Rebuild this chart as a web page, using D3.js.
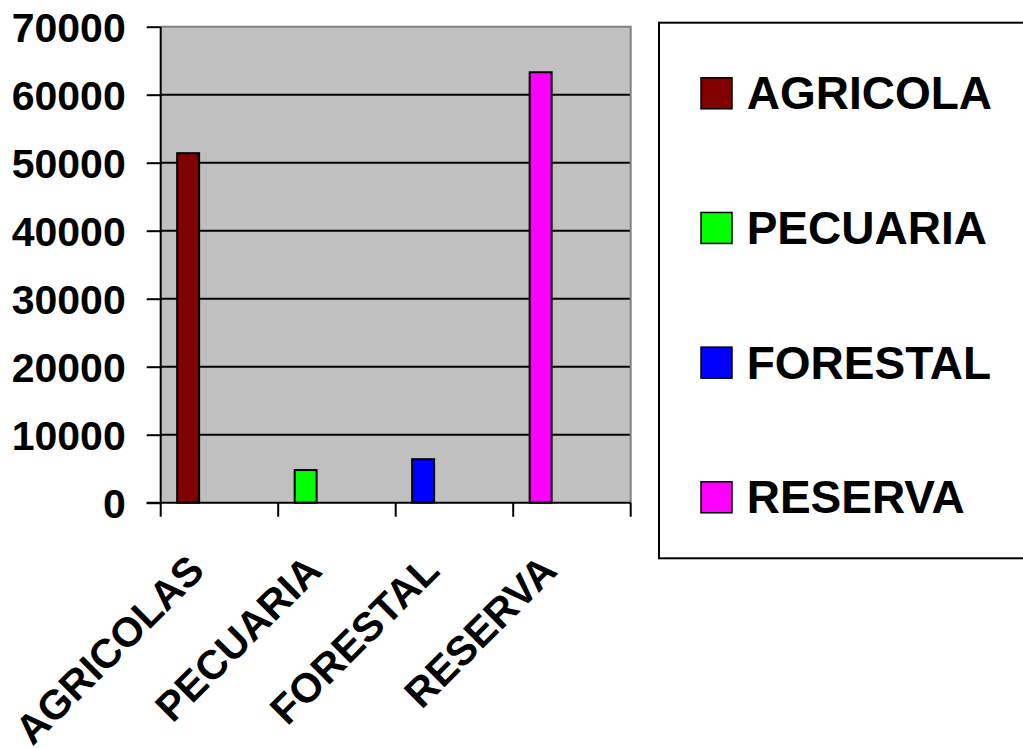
<!DOCTYPE html>
<html>
<head>
<meta charset="utf-8">
<script src="https://cdn.jsdelivr.net/npm/d3@7"></script>
<style>
  html, body { margin: 0; padding: 0; background: #fff; }
  svg { display: block; }
  text { font-family: "Liberation Sans", Arial, sans-serif; font-weight: bold; }
</style>
</head>
<body>
<svg id="chart" width="1023" height="748"></svg>
<script>
// ---- data ----
const categories = ["AGRICOLAS", "PECUARIA", "FORESTAL", "RESERVA"];
const seriesNames = ["AGRICOLA", "PECUARIA", "FORESTAL", "RESERVA"];
const values = [51400, 4800, 6400, 63300];
const colors = ["#800000", "#00FF00", "#0000FF", "#FF00FF"];
const yTicks = [0, 10000, 20000, 30000, 40000, 50000, 60000, 70000];

// ---- layout ----
const W = 1023, H = 748;
const plot = { left: 160.7, right: 630.7, top: 26.7, bottom: 502.7 };
const svg = d3.select("#chart");

const x = d3.scaleBand().domain(categories).range([plot.left, plot.right]).padding(0);
const y = d3.scaleLinear().domain([0, 70000]).range([plot.bottom, plot.top]);
const bw = x.bandwidth();

// plot background
svg.append("rect")
  .attr("x", plot.left).attr("y", plot.top)
  .attr("width", plot.right - plot.left).attr("height", plot.bottom - plot.top)
  .attr("fill", "#C0C0C0");

// gridlines
svg.append("g").selectAll("line")
  .data(yTicks.filter(t => t > 0 && t < 70000))
  .join("line")
  .attr("x1", plot.left).attr("x2", plot.right)
  .attr("y1", d => y(d)).attr("y2", d => y(d))
  .attr("stroke", "#000").attr("stroke-width", 2);

// top & right border (gray)
svg.append("path")
  .attr("d", `M${plot.left},${plot.top}H${plot.right}V${plot.bottom}`)
  .attr("fill", "none").attr("stroke", "#808080").attr("stroke-width", 2);

// bars
svg.append("g").selectAll("rect")
  .data(values.map((v, i) => ({ cat: categories[i], v, c: colors[i] })))
  .join("rect")
  .attr("x", d => x(d.cat) + bw * 0.14)
  .attr("width", bw * 0.187)
  .attr("y", d => y(d.v))
  .attr("height", d => y(0) - y(d.v))
  .attr("fill", d => d.c)
  .attr("stroke", "#000").attr("stroke-width", 2);

// y axis
const yAxis = svg.append("g")
  .attr("transform", `translate(${plot.left},0)`)
  .call(d3.axisLeft(y).tickValues(yTicks).tickFormat(d3.format("d")).tickSize(14).tickPadding(21));
yAxis.select(".domain").attr("stroke", "#000").attr("stroke-width", 2)
  .attr("d", `M0,${plot.top}V${plot.bottom}`);
yAxis.selectAll(".tick line").attr("stroke", "#000").attr("stroke-width", 2);
yAxis.selectAll(".tick text")
  .attr("font-size", 41).attr("font-family", "'Liberation Sans', Arial, sans-serif")
  .attr("font-weight", "bold").attr("fill", "#000").attr("dy", "0.36em");

// x axis
const xAxis = svg.append("g")
  .attr("transform", `translate(0,${plot.bottom})`);
xAxis.append("line")
  .attr("x1", plot.left - 14).attr("x2", plot.right)
  .attr("y1", 0).attr("y2", 0)
  .attr("stroke", "#000").attr("stroke-width", 2);
const boundaries = categories.map(c => x(c)).concat([x(categories[categories.length - 1]) + bw]);
xAxis.selectAll("line.tk").data(boundaries).join("line")
  .attr("class", "tk")
  .attr("x1", d => d).attr("x2", d => d)
  .attr("y1", 0).attr("y2", 14)
  .attr("stroke", "#000").attr("stroke-width", 2);

// x labels rotated
svg.append("g").selectAll("text")
  .data(categories)
  .join("text")
  .attr("transform", d => `translate(${x(d) + bw / 2 - 13},${plot.bottom + 70}) rotate(-45)`)
  .attr("text-anchor", "end")
  .attr("font-size", 41)
  .attr("fill", "#000")
  .text(d => d);

// legend
const legend = svg.append("g");
legend.append("rect")
  .attr("x", 659).attr("y", 22.7)
  .attr("width", 400).attr("height", 558.3 - 22.7)
  .attr("fill", "#fff").attr("stroke", "#000").attr("stroke-width", 2);
const legY = d3.scalePoint().domain(seriesNames).range([109.3, 513.3]);
const items = legend.selectAll("g.item").data(seriesNames).join("g")
  .attr("class", "item")
  .attr("transform", d => `translate(0,${legY(d)})`);
items.append("rect")
  .attr("x", 701).attr("y", -31.5)
  .attr("width", 31).attr("height", 31)
  .attr("fill", (d, i) => colors[i])
  .attr("stroke", "#000").attr("stroke-width", 1.5);
items.append("text")
  .attr("x", 746.7).attr("y", 0)
  .attr("font-size", 46).attr("fill", "#000")
  .text(d => d);
</script>
</body>
</html>
